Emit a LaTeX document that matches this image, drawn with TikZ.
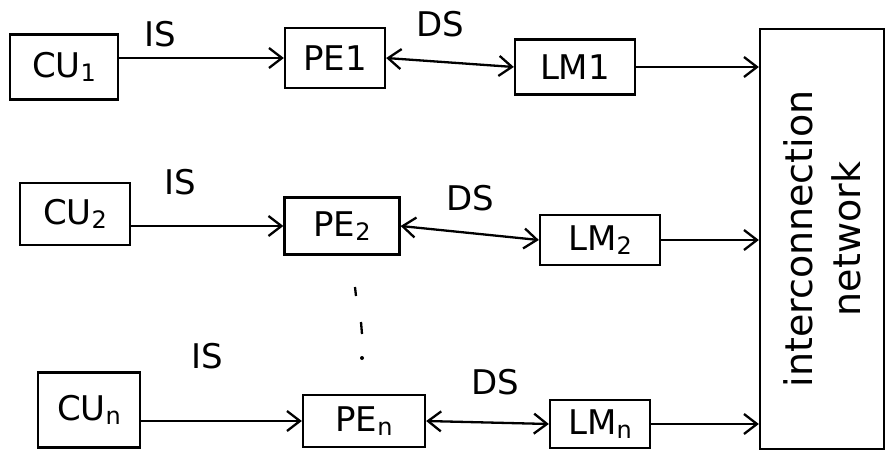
\documentclass[tikz,border=0pt]{standalone}
\usepackage{fontspec}
\setmainfont{DejaVu Sans}
\usetikzlibrary{arrows.meta}
\newcommand{\idx}[1]{\raisebox{-0.25ex}{\fontsize{24}{26}\selectfont #1}}
\begin{document}
\begin{tikzpicture}[x=1pt,y=-1pt,
  line width=2.3pt,
  unit/.style={draw,inner sep=0pt,font=\fontsize{34}{38}\selectfont},
  sig/.style={inner sep=0pt,font=\fontsize{34}{38}\selectfont},
  barb/.tip={Straight Barb[length=13pt,width=20pt,line width=2.3pt]},
  link/.style={-barb},
  dlink/.style={barb-barb}]
\useasboundingbox (0,0) rectangle (890,457);

% row 1
\node[unit,minimum width=108pt,minimum height=65pt] (cu1) at (64,67) {CU\idx{1}};
\node[unit,minimum width=100pt,minimum height=60pt] (pe1) at (335,58) {PE1};
\node[unit,minimum width=120pt,minimum height=55pt] (lm1) at (575,67) {LM1};
\node[sig] (is1) at (160,34) {IS};
\node[sig] (ds1) at (440,24) {DS};

% row 2
\node[unit,minimum width=110pt,minimum height=62pt] (cu2) at (75,214) {CU\idx{2}};
\node[unit,minimum width=115pt,minimum height=57pt] (pe2) at (342,226) {PE\idx{2}};
\node[unit,minimum width=120pt,minimum height=50pt] (lm2) at (600,240) {LM\idx{2}};
\node[sig] (is2) at (180,182) {IS};
\node[sig] (ds2) at (470,198) {DS};

% row n
\node[unit,minimum width=102pt,minimum height=75pt] (cun) at (89,410) {CU\idx{n}};
\node[unit,minimum width=122pt,minimum height=52pt] (pen) at (364,421) {PE\idx{n}};
\node[unit,minimum width=100pt,minimum height=48pt] (lmn) at (600,424) {LM\idx{n}};
\node[sig] (isn) at (207,356) {IS};
\node[sig] (dsn) at (495,382) {DS};

% interconnection network
\node[draw,minimum width=124pt,minimum height=420pt,inner sep=0pt] (net) at (822,239) {};
\node[rotate=90,align=center,font=\fontsize{38}{48}\selectfont] (netlbl) at (net.center) {interconnection\\network};

% vertical ellipsis between PE2 and PEn
\draw (355,287) -- (356,296);
\draw (361,322) -- (362,334);
\fill (362,358) circle (2pt);

% connectors
\foreach \r in {1,2,n}{
  \draw[link] (cu\r.east |- pe\r.west) -- (pe\r.west);
  \draw[dlink] (pe\r.east) -- (lm\r.west);
  \draw[link] (lm\r.east) -- (net.west |- lm\r.east);
}
\end{tikzpicture}
\end{document}
